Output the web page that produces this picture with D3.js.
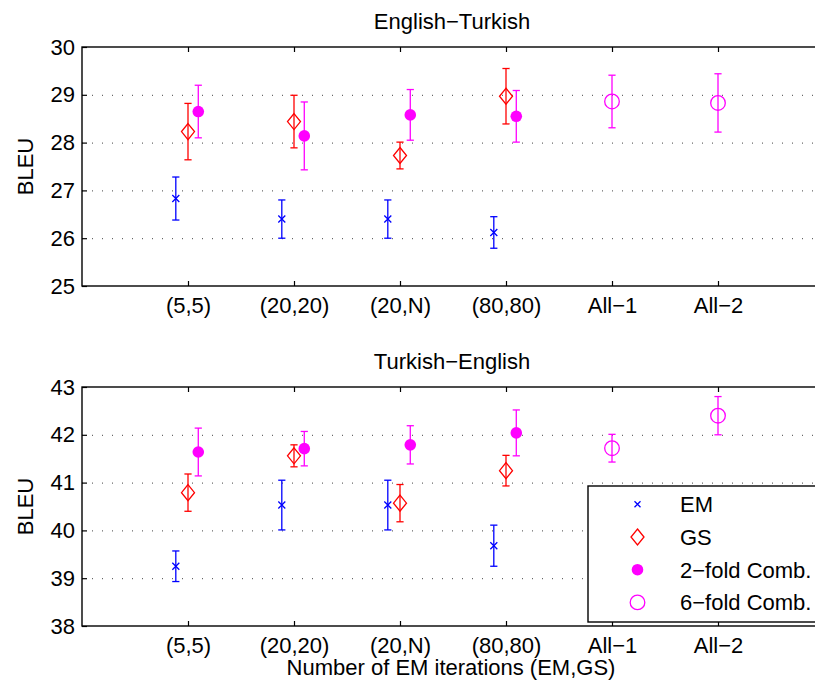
<!DOCTYPE html>
<html>
<head>
<meta charset="utf-8">
<script src="https://cdn.jsdelivr.net/npm/d3@7"></script>
<style>
  body { margin: 0; background: #fff; }
  svg text { font-family: "Liberation Sans", Arial, Helvetica, sans-serif; }
  .tick text { font-size: 22px; fill: #000; font-family: "Liberation Sans", Arial, Helvetica, sans-serif; }
  .tick line { stroke: #000; stroke-width: 1.2; }
</style>
</head>
<body>
<svg id="canvas" width="815" height="689"></svg>
<script>
const categories = ['(5,5)', '(20,20)', '(20,N)', '(80,80)', 'All\u22121', 'All\u22122']

// English-Turkish
const enTrEM = [26.83, 26.40, 26.40, 26.12],
    enTrEMErr = [0.45, 0.40, 0.40, 0.33],
    enTrGS = [28.23, 28.44, 27.73, 28.97],
    enTrGSErr = [0.59, 0.55, 0.28, 0.58],
    enTr2 = [28.65, 28.14, 28.58, 28.55],
    enTr2Err = [0.55, 0.71, 0.53, 0.54],
    enTr6 = [28.86, 28.83],
    enTr6Err = [0.55, 0.61]

// Turkish-English
const trEnEM = [39.25, 40.53, 40.53, 39.68],
    trEnEMErr = [0.32, 0.52, 0.52, 0.43],
    trEnGS = [40.79, 41.56, 40.57, 41.25],
    trEnGSErr = [0.39, 0.23, 0.39, 0.32],
    trEn2 = [41.64, 41.71, 41.79, 42.04],
    trEn2Err = [0.50, 0.36, 0.40, 0.48],
    trEn6 = [41.72, 42.40],
    trEn6Err = [0.29, 0.40]

const topTicks = [25, 26, 27, 28, 29, 30],
    bottomTicks = [38, 39, 40, 41, 42, 43]

const legendLabels = ['EM', 'GS', '2\u2212fold Comb.', '6\u2212fold Comb.']

const svg = d3.select('#canvas')

const x = d3.scaleLinear().domain([0, 7]).range([82, 824])

const panels = [
    {
        title: 'English\u2212Turkish', top: 47, bottom: 286, ticks: topTicks,
        series: [
            { kind: 'x', color: '#0000ff', vals: enTrEM, err: enTrEMErr, first: 1, off: -0.115 },
            { kind: 'diamond', color: '#ff0000', vals: enTrGS, err: enTrGSErr, first: 1, off: 0 },
            { kind: 'dot', color: '#ff00ff', vals: enTr2, err: enTr2Err, first: 1, off: 0.097 },
            { kind: 'ring', color: '#ff00ff', vals: enTr6, err: enTr6Err, first: 5, off: 0 }
        ]
    },
    {
        title: 'Turkish\u2212English', top: 387, bottom: 626, ticks: bottomTicks,
        series: [
            { kind: 'x', color: '#0000ff', vals: trEnEM, err: trEnEMErr, first: 1, off: -0.115 },
            { kind: 'diamond', color: '#ff0000', vals: trEnGS, err: trEnGSErr, first: 1, off: 0 },
            { kind: 'dot', color: '#ff00ff', vals: trEn2, err: trEn2Err, first: 1, off: 0.097 },
            { kind: 'ring', color: '#ff00ff', vals: trEn6, err: trEn6Err, first: 5, off: 0 }
        ]
    }
]

function marker(g, kind, color, cx, cy, small) {
    if (kind === 'x') {
        const s = small ? 3 : 3.5
        g.append('path')
            .attr('d', `M${cx - s},${cy - s}L${cx + s},${cy + s}M${cx - s},${cy + s}L${cx + s},${cy - s}`)
            .attr('stroke', color).attr('stroke-width', 1.3).attr('fill', 'none')
    } else if (kind === 'diamond') {
        g.append('path')
            .attr('d', `M${cx},${cy - 8}L${cx + 6.5},${cy}L${cx},${cy + 8}L${cx - 6.5},${cy}Z`)
            .attr('stroke', color).attr('stroke-width', 1.3).attr('fill', 'none')
    } else if (kind === 'dot') {
        g.append('circle').attr('cx', cx).attr('cy', cy).attr('r', 5.8)
            .attr('fill', color)
    } else {
        g.append('circle').attr('cx', cx).attr('cy', cy).attr('r', 7.3)
            .attr('stroke', color).attr('stroke-width', 1.3).attr('fill', 'none')
    }
}

panels.forEach(p => {
    const y = d3.scaleLinear().domain(d3.extent(p.ticks)).range([p.bottom, p.top])
    const g = svg.append('g')

    // dotted grid
    g.append('g')
        .attr('transform', `translate(${x.range()[0]},0)`)
        .call(d3.axisLeft(y).tickValues(p.ticks.slice(1, -1)).tickSize(-(x.range()[1] - x.range()[0])).tickFormat(''))
        .call(a => a.select('.domain').remove())
        .selectAll('line').style('stroke', '#444').style('stroke-width', 1).style('stroke-dasharray', '1,9')

    // y axis
    g.append('g')
        .attr('transform', `translate(${x.range()[0]},0)`)
        .call(d3.axisLeft(y).tickValues(p.ticks).tickSize(-5).tickPadding(7).tickFormat(d3.format('d')))
        .call(a => a.select('.domain').remove())

    // x axes, bottom labelled, top ticks only
    g.append('g')
        .attr('transform', `translate(0,${p.bottom})`)
        .call(d3.axisBottom(x).tickValues(d3.range(1, 7)).tickSize(-5).tickPadding(11)
            .tickFormat(d => categories[d - 1]))
        .call(a => a.select('.domain').remove())
    g.append('g')
        .attr('transform', `translate(0,${p.top})`)
        .call(d3.axisTop(x).tickValues(d3.range(1, 7)).tickSize(-5).tickFormat(''))
        .call(a => a.select('.domain').remove())

    // box
    g.append('rect')
        .attr('x', x.range()[0]).attr('y', p.top)
        .attr('width', x.range()[1] - x.range()[0]).attr('height', p.bottom - p.top)
        .attr('fill', 'none').attr('stroke', '#000').attr('stroke-width', 1.4)

    // title
    g.append('text')
        .attr('x', (x.range()[0] + x.range()[1]) / 2 - 1).attr('y', p.top - 18)
        .attr('text-anchor', 'middle').attr('font-size', 22)
        .text(p.title)

    // y label
    g.append('text')
        .attr('transform', `translate(33,${(p.top + p.bottom) / 2}) rotate(-90)`)
        .attr('text-anchor', 'middle').attr('font-size', 22)
        .text('BLEU')

    // error bars and markers
    p.series.forEach(s => {
        s.vals.forEach((v, i) => {
            const cx = x(s.first + i + s.off),
                e = s.err[i]
            const eg = g.append('g').attr('stroke', s.color).attr('stroke-width', 1.3)
            eg.append('line').attr('x1', cx).attr('x2', cx).attr('y1', y(v - e)).attr('y2', y(v + e))
            eg.append('line').attr('x1', cx - 3.6).attr('x2', cx + 3.6).attr('y1', y(v - e)).attr('y2', y(v - e))
            eg.append('line').attr('x1', cx - 3.6).attr('x2', cx + 3.6).attr('y1', y(v + e)).attr('y2', y(v + e))
            marker(g, s.kind, s.color, cx, y(v))
        })
    })
})

// x label
svg.append('text')
    .attr('x', 451).attr('y', 675)
    .attr('text-anchor', 'middle').attr('font-size', 22)
    .text('Number of EM iterations (EM,GS)')

// legend
const leg = svg.append('g')
leg.append('rect')
    .attr('x', 588).attr('y', 486).attr('width', 260).attr('height', 136)
    .attr('fill', '#fff').attr('stroke', '#000').attr('stroke-width', 1.4)
const legKinds = [['x', '#0000ff'], ['diamond', '#ff0000'], ['dot', '#ff00ff'], ['ring', '#ff00ff']]
legendLabels.forEach((t, i) => {
    const ly = 504.3 + i * 32.7
    marker(leg, legKinds[i][0], legKinds[i][1], 637.5, ly, true)
    leg.append('text')
        .attr('x', 680).attr('y', ly).attr('dy', '0.36em')
        .attr('font-size', 22)
        .text(t)
})
</script>
</body>
</html>
